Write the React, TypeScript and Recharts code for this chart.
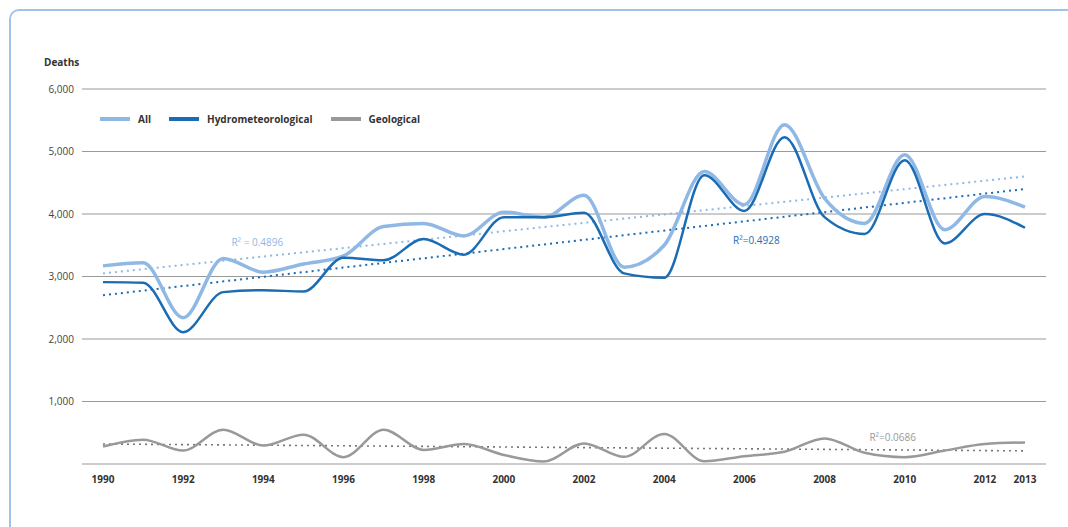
import React from 'react';
import {
  LineChart,
  Line,
  XAxis,
  YAxis,
  CartesianGrid,
  Legend,
  ReferenceLine,
  ReferenceDot
} from 'recharts';

// Deaths per year
const years = [1990, 1991, 1992, 1993, 1994, 1995, 1996, 1997, 1998, 1999, 2000, 2001, 2002, 2003, 2004, 2005, 2006, 2007, 2008, 2009, 2010, 2011, 2012, 2013];
const allDeaths = [3170, 3220, 2340, 3290, 3070, 3200, 3330, 3800, 3850, 3650, 4030, 3950, 4300, 3150, 3500, 4680, 4150, 5430, 4250, 3850, 4950, 3750, 4280, 4110];
const hydroDeaths = [2910, 2900, 2110, 2750, 2780, 2760, 3300, 3260, 3600, 3350, 3950, 3950, 4020, 3050, 2980, 4620, 4050, 5230, 3950, 3680, 4860, 3530, 4000, 3780];
const geoDeaths = [280, 390, 215, 550, 295, 470, 110, 550, 225, 320, 145, 40, 330, 115, 480, 45, 125, 195, 410, 180, 110, 215, 320, 345];

const xTicks = [1990, 1992, 1994, 1996, 1998, 2000, 2002, 2004, 2006, 2008, 2010, 2012, 2013];
const yTicks = [0, 1000, 2000, 3000, 4000, 5000, 6000];

// linear trend end points (1990 and 2013)
const allTrend = [3050, 4600];
const hydroTrend = [2700, 4400];
const geoTrend = [320, 210];

const ALL_COLOR = '#8fb8e4';
const HYDRO_COLOR = '#1a6cb4';
const GEO_COLOR = '#999999';
const FRAME_COLOR = '#9ec4e8';
const FONT = '"Open Sans", sans-serif';

const data = years.map((year, i) => ({
  year,
  all: allDeaths[i],
  hydro: hydroDeaths[i],
  geo: geoDeaths[i]
}));

const legendItems = [
  { name: 'All', color: ALL_COLOR },
  { name: 'Hydrometeorological', color: HYDRO_COLOR },
  { name: 'Geological', color: GEO_COLOR }
];

const CustomLegend = () => (
  <div style={{ display: 'flex', alignItems: 'center', fontFamily: FONT, fontSize: 10, fontWeight: 700, color: '#333' }}>
    {legendItems.map((item) => (
      <div key={item.name} style={{ display: 'flex', alignItems: 'center', marginRight: 18 }}>
        <span style={{ display: 'inline-block', width: 30, height: 4, background: item.color, marginRight: 8 }} />
        <span>{item.name}</span>
      </div>
    ))}
  </div>
);

const r2Label = (text: string, color: string) => ({
  value: text,
  position: 'center' as const,
  fill: color,
  fontSize: 10,
  fontFamily: FONT
});

const App: React.FC = () => {
  return (
    <div style={{ position: 'fixed', left: 0, top: 0, width: 1068, height: 527, overflow: 'hidden', background: '#fff' }}>
      {/* card frame: only the top and left edges show in this crop */}
      <div style={{ position: 'absolute', left: 19, top: 9, width: 1049, height: 2, background: FRAME_COLOR }} />
      <div style={{ position: 'absolute', left: 9, top: 19, width: 2, height: 508, background: FRAME_COLOR }} />
      <div
        style={{
          position: 'absolute',
          left: 9,
          top: 9,
          width: 12,
          height: 12,
          borderTop: `2px solid ${FRAME_COLOR}`,
          borderLeft: `2px solid ${FRAME_COLOR}`,
          borderTopLeftRadius: 10,
          boxSizing: 'border-box'
        }}
      />
      <div style={{ position: 'absolute', left: 44, top: 55, fontFamily: FONT, fontSize: 10, fontWeight: 700, color: '#333' }}>
        Deaths
      </div>
      <div style={{ position: 'absolute', left: 0, top: 0 }}>
        <LineChart width={1068} height={527} data={data} margin={{ top: 89, right: 22, bottom: 0, left: 0 }}>
          <CartesianGrid vertical={false} stroke="#9a9a9a" strokeWidth={1.2} />
          <XAxis
            dataKey="year"
            type="number"
            domain={[1990, 2013]}
            ticks={xTicks}
            padding={{ left: 21, right: 21 }}
            axisLine={false}
            tickLine={false}
            tickSize={0}
            tickMargin={12}
            height={63}
            tick={{ fill: '#333', fontSize: 10, fontWeight: 700, fontFamily: FONT }}
          />
          <YAxis
            domain={[0, 6000]}
            ticks={yTicks}
            width={82}
            axisLine={false}
            tickLine={false}
            tickSize={0}
            tickMargin={8}
            tickFormatter={(v: number) => (v === 0 ? '' : v.toLocaleString('en-US'))}
            tick={{ fill: '#444', fontSize: 10, fontFamily: FONT }}
          />
          <Legend
            verticalAlign="middle"
            align="center"
            content={<CustomLegend />}
            wrapperStyle={{ position: 'absolute', top: 112, left: 100, width: 'auto' }}
          />
          <ReferenceLine
            segment={[{ x: years[0], y: allTrend[0] }, { x: years[years.length - 1], y: allTrend[1] }]}
            stroke={ALL_COLOR}
            strokeWidth={2}
            strokeDasharray="2 4"
          />
          <ReferenceLine
            segment={[{ x: years[0], y: hydroTrend[0] }, { x: years[years.length - 1], y: hydroTrend[1] }]}
            stroke={HYDRO_COLOR}
            strokeWidth={2}
            strokeDasharray="2 4"
          />
          <ReferenceLine
            segment={[{ x: years[0], y: geoTrend[0] }, { x: years[years.length - 1], y: geoTrend[1] }]}
            stroke="#777"
            strokeWidth={1.6}
            strokeDasharray="2 4"
          />
          <Line type="monotone" dataKey="geo" stroke={GEO_COLOR} strokeWidth={2.5} dot={false} isAnimationActive={false} />
          <Line type="monotone" dataKey="all" stroke={ALL_COLOR} strokeWidth={3.5} dot={false} isAnimationActive={false} />
          <Line type="monotone" dataKey="hydro" stroke={HYDRO_COLOR} strokeWidth={2.5} dot={false} isAnimationActive={false} />
          <ReferenceDot x={1993.85} y={3550} r={0} fill="none" stroke="none" label={r2Label('R² = 0.4896', ALL_COLOR)} />
          <ReferenceDot x={2006.3} y={3580} r={0} fill="none" stroke="none" label={r2Label('R²=0.4928', HYDRO_COLOR)} />
          <ReferenceDot x={2009.7} y={430} r={0} fill="none" stroke="none" label={r2Label('R²=0.0686', GEO_COLOR)} />
        </LineChart>
      </div>
    </div>
  );
};

export default App;
